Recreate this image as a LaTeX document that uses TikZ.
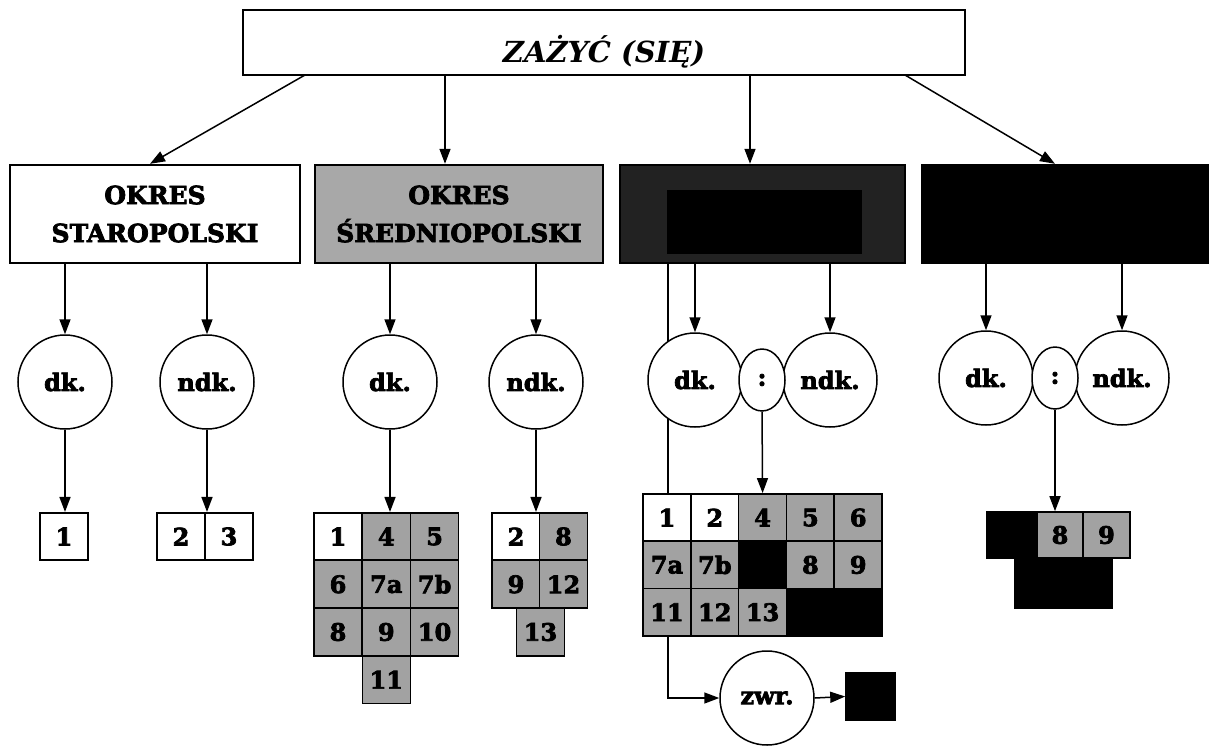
\documentclass[tikz,border=0pt]{standalone}
\usepackage{fontspec}
\setmainfont{DejaVu Serif}[BoldFeatures={FakeBold=3}]
\usetikzlibrary{shapes.geometric,arrows.meta}
\definecolor{cgray}{HTML}{A2A2A2}
\definecolor{bgray}{HTML}{A8A8A8}
\definecolor{dgray}{HTML}{222222}
\begin{document}
\begin{tikzpicture}[x=1pt,y=-1pt,
  lbl/.style={font=\fontsize{24}{38}\selectfont\bfseries},
  box/.style={draw=black,line width=2.4pt,minimum height=98pt,inner sep=0pt,align=center,lbl},
  circ/.style={circle,draw,line width=1.5pt,fill=white,minimum size=94pt,inner sep=0pt,lbl},
  sepe/.style={ellipse,draw,line width=1.5pt,fill=white,minimum width=46pt,minimum height=62pt,inner sep=0pt,lbl},
  cell/.style={rectangle,draw,line width=1.6pt,minimum width=48pt,minimum height=47.5pt,inner sep=0pt,lbl},
  wc/.style={cell,fill=white},
  gc/.style={cell,fill=cgray},
  bc/.style={cell,fill=black},
  arr/.style={line width=1.5pt,-{Triangle[length=15pt,width=11pt]}},
  ln/.style={line width=1.5pt}
]
\useasboundingbox[fill=white] (0,0) rectangle (1213,745);

% top
\node[draw,line width=2pt,minimum width=722pt,minimum height=65pt,inner sep=0pt,
  text height=39pt,text depth=0pt,
  font=\fontsize{29}{34}\selectfont\bfseries\itshape] (top) at (604,42.5) {ZAŻYĆ (SIĘ)};

% level 2 boxes
\node[box,fill=white,minimum width=290pt,font=\fontsize{25}{38}\selectfont\bfseries] (b1) at (155,214) {OKRES\\STAROPOLSKI};
\node[box,fill=bgray,minimum width=288pt,font=\fontsize{25}{38}\selectfont\bfseries] (b2) at (459,214) {OKRES\\ŚREDNIOPOLSKI};
\node[box,fill=dgray,minimum width=285pt] (b3) at (762.5,214) {};
\fill[black] (667,190) rectangle (862,254);
\node[box,fill=black,minimum width=286pt] (b4) at (1065,214) {};

% top arrows
\coordinate (t1) at (305,75);
\coordinate (t2) at (445,75);
\coordinate (t3) at (750,75);
\coordinate (t4) at (905,75);
\draw[arr] (t1) -- (b1.north -| 150,0);
\draw[arr] (t2) -- (b2.north -| t2);
\draw[arr] (t3) -- (b3.north -| t3);
\draw[arr] (t4) -- (b4.north -| 1055,0);

% line in box3 to zwr (behind circle and grid)
\coordinate (l3) at (668,0);
\node[circ] (zwr) at (767,698) {zwr.};
\draw[arr] (b3.south -| l3) |- (zwr.west);

% circles
\node[circ] (dk1) at (65,382) {dk.};
\node[circ] (nk1) at (207,382) {ndk.};
\node[circ] (dk2) at (390,382) {dk.};
\node[circ] (nk2) at (536,382) {ndk.};
\node[circ] (dk3) at (695,380) {dk.};
\node[circ] (nk3) at (830,380) {ndk.};
\node[sepe] (s3) at (762,380) {:};
\node[circ] (dk4) at (986,378) {dk.};
\node[circ] (nk4) at (1122,378) {ndk.};
\node[sepe] (s4) at (1055,378) {:};

\foreach \b/\c in {b1/dk1,b1/nk1,b2/dk2,b2/nk2,b3/dk3,b3/nk3,b4/dk4,b4/nk4}
  \draw[arr] (\b.south -| \c) -- (\c.north);

% grid 1
\node[wc] (a1) at (64,536.5) {1};
\node[wc] (a2) at (181,536.5) {2};
\node[wc] (a3) at (229,536.5) {3};
\draw[arr] (dk1.south) -- (dk1.south |- a1.north);
\draw[arr] (nk1.south) -- (nk1.south |- a2.north);

% grid 2
\node[wc] (e1) at (338,536.5) {1};
\node[gc] (e4) at (386.3,536.5) {4};
\node[gc] (e5) at (434.6,536.5) {5};
\node[gc] (e6) at (338,584.3) {6};
\node[gc] (e7a) at (386.3,584.3) {7a};
\node[gc] (e7b) at (434.6,584.3) {7b};
\node[gc] (e8) at (338,632) {8};
\node[gc] (e9) at (386.3,632) {9};
\node[gc] (e10) at (434.6,632) {10};
\node[gc] (e11) at (386.3,679.7) {11};
\node[wc] (f2) at (516,536.5) {2};
\node[gc] (f8) at (563.5,536.5) {8};
\node[gc] (f9) at (516,584.3) {9};
\node[gc] (f12) at (563.5,584.3) {12};
\node[gc] (f13) at (540.5,632) {13};
\draw[arr] (dk2.south) -- (dk2.south |- e4.north);
\draw[arr] (nk2.south) -- (nk2.south |- f2.north);

% grid 3
\begin{scope}[every node/.append style={minimum width=47.8pt,minimum height=47.3pt}]
\node[wc] (g1) at (667,517.6) {1};
\node[wc] (g2) at (714.8,517.6) {2};
\node[gc] (g4) at (762.6,517.6) {4};
\node[gc] (g5) at (810.4,517.6) {5};
\node[gc] (g6) at (858.2,517.6) {6};
\node[gc] (g7a) at (667,564.9) {7a};
\node[gc] (g7b) at (714.8,564.9) {7b};
\node[bc] (gx1) at (762.6,564.9) {};
\node[gc] (g8) at (810.4,564.9) {8};
\node[gc] (g9) at (858.2,564.9) {9};
\node[gc] (g11) at (667,612.2) {11};
\node[gc] (g12) at (714.8,612.2) {12};
\node[gc] (g13) at (762.6,612.2) {13};
\node[bc,minimum width=95.6pt] (gx2) at (834.3,612.2) {};
\end{scope}
\draw[arr] (s3.south) -- (g4.north);

% zwr -> black square
\node[cell,fill=black,minimum width=49pt,minimum height=47pt] (zb) at (870.5,696.5) {};
\draw[arr] (zwr.east) -- (zb.west);

% grid 4
\node[bc,minimum width=50pt,minimum height=46pt] (hx) at (1012,535) {};
\node[gc,minimum width=46pt,minimum height=46pt] (h8) at (1060,535) {8};
\node[gc,minimum width=47pt,minimum height=46pt] (h9) at (1106.5,535) {9};
\node[bc,minimum width=97pt,minimum height=50pt] (hy) at (1063.5,583) {};
\draw[arr] (s4.south) -- (s4.south |- h8.north);
\end{tikzpicture}
\end{document}
